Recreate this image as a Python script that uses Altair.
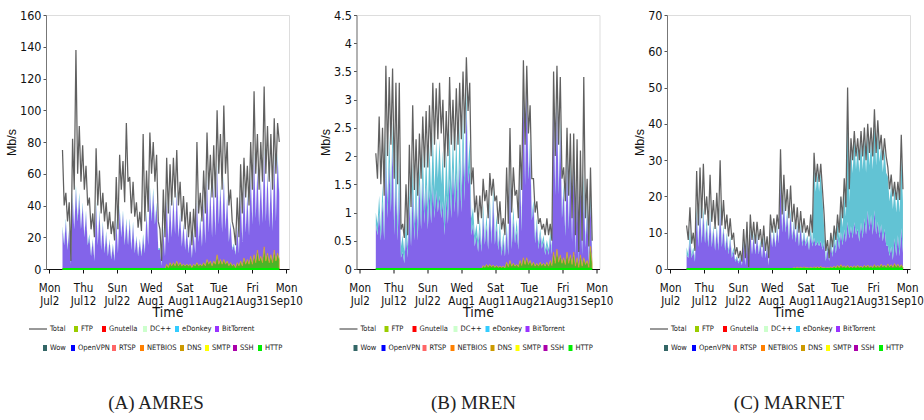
import altair as alt
import pandas as pd

# ---------------- data (two readings per day: peak, trough) ----------------
amres_total = [75,40, 48,30, 42,5, 82,50, 138,60, 90,55, 78,50, 65,40, 45,25, 35,20,
               76,40, 62,35, 48,30, 42,25, 36,22, 30,18, 58,25, 72,50, 68,42, 92,55,
               58,35, 55,33, 42,26, 36,24, 85,30, 62,36, 86,60, 80,55, 72,30, 25,5,
               50,20, 70,35, 66,40, 70,45, 75,40, 55,30, 46,25, 42,20, 36,15, 38,20,
               80,35, 48,30, 62,35, 86,50, 72,45, 78,45, 100,60, 85,50, 103,60, 80,40,
               50,30, 25,15, 45,20, 66,35, 70,45, 65,40, 80,50, 112,60, 85,50, 80,55,
               115,60, 90,55, 85,50, 95,60, 92,80]
amres_bt = [25,15, 30,12, 25,3, 45,25, 50,30, 45,25, 40,20, 35,15, 20,8, 18,5,
            40,15, 35,12, 28,10, 22,8, 18,6, 15,5, 30,10, 38,20, 35,15, 30,15,
            30,12, 28,10, 20,8, 18,8, 20,10, 35,15, 50,30, 48,28, 40,12, 12,2,
            25,8, 40,15, 38,18, 40,20, 42,18, 30,12, 25,10, 22,8, 18,6, 20,8,
            38,15, 28,12, 38,14, 50,20, 45,18, 48,18, 55,25, 45,20, 50,22, 40,15,
            25,10, 12,8, 22,8, 40,15, 45,20, 40,18, 50,25, 62,28, 50,22, 48,25,
            60,25, 50,22, 48,20, 58,25, 60,40]
amres_ed = [2,1, 2,1, 1,1, 3,1, 3,2, 3,1, 2,1, 2,1, 2,1, 1,1,
            3,1, 2,1, 2,1, 2,1, 1,1, 1,1, 2,1, 2,1, 2,1, 2,1,
            2,1, 2,1, 1,1, 1,1, 2,1, 2,1, 3,2, 3,2, 2,1, 1,1,
            2,1, 2,1, 2,1, 2,1, 2,1, 2,1, 1,1, 1,1, 1,1, 1,1,
            2,1, 2,1, 2,1, 3,1, 2,1, 2,1, 3,2, 2,1, 3,1, 2,1,
            1,1, 1,1, 1,1, 2,1, 2,1, 2,1, 3,1, 3,2, 2,1, 2,1,
            3,2, 2,1, 2,1, 3,2, 3,2]
amres_ftp = [3,1, 4,2, 4,2, 5,2, 4,2, 3,2, 3,2, 3,1, 3,2, 4,2,
             3,2, 4,2, 6,3, 5,2, 5,3, 9,3, 6,3, 6,3, 5,2, 4,2,
             3,1, 4,2, 5,2, 7,3, 6,3, 8,3, 9,4, 12,5, 8,4, 14,5,
             10,4, 9,4, 12,5, 10,6]

mren_total = [2.05,1.6, 2.7,1.5, 2.5,1.3, 3.6,2.0, 3.4,2.2, 3.55,1.6, 3.3,1.5, 3.3,0.7, 0.8,0.55, 1.5,0.6,
              2.2,1.1, 2.9,1.4, 2.3,1.3, 2.4,1.6, 2.7,1.8, 2.8,1.8, 2.9,2.0, 3.3,2.2, 3.2,2.3, 3.3,2.4,
              3.0,1.8, 2.8,2.0, 3.4,2.2, 3.0,2.1, 3.2,2.2, 3.3,2.3, 3.5,2.4, 3.75,2.8, 3.3,1.5, 1.8,1.0,
              1.3,0.8, 1.3,0.9, 1.6,1.2, 1.4,0.9, 1.7,1.3, 1.6,1.2, 1.3,0.8, 1.2,0.7, 0.9,0.6, 1.8,0.8,
              2.5,1.0, 1.8,1.3, 1.4,0.9, 2.2,1.4, 3.7,2.2, 3.6,2.4, 2.9,1.6, 1.6,1.0, 1.2,0.8, 0.9,0.7,
              0.8,0.6, 0.9,0.6, 0.8,0.5, 3.5,2.0, 3.6,2.2, 3.4,1.6, 1.8,1.2, 2.5,1.3, 2.4,0.9, 2.4,0.6,
              2.3,0.3, 2.1,0.5, 3.4,0.9, 1.6,0.4, 1.8,0.5]
mren_bt = [0.8,0.6, 1.0,0.5, 1.2,0.5, 2.0,0.9, 1.9,1.0, 2.2,0.6, 1.7,0.5, 1.5,0.2, 0.3,0.1, 0.6,0.2,
           1.2,0.4, 1.4,0.5, 1.3,0.5, 1.5,0.7, 1.6,0.8, 1.5,0.7, 1.4,0.8, 1.5,0.9, 1.4,1.0, 1.3,0.9,
           1.2,0.6, 1.3,0.8, 1.6,0.9, 1.8,1.0, 1.7,0.9, 1.9,1.0, 2.2,1.2, 2.9,1.5, 1.8,0.6, 0.8,0.4,
           0.6,0.3, 0.7,0.3, 0.9,0.4, 0.7,0.3, 1.0,0.4, 1.2,0.4, 0.7,0.3, 0.6,0.2, 0.5,0.2, 0.6,0.2,
           1.4,0.3, 0.8,0.4, 0.6,0.3, 1.5,0.6, 3.0,1.4, 3.1,1.5, 2.0,0.8, 1.0,0.4, 0.7,0.3, 0.5,0.3,
           0.4,0.2, 0.3,0.2, 0.4,0.2, 2.7,1.2, 2.6,1.2, 2.2,0.8, 1.2,0.5, 1.6,0.6, 1.5,0.4, 1.6,0.2,
           1.4,0.1, 1.4,0.2, 1.2,0.3, 0.9,0.1, 0.8,0.1]
mren_ed = [0.2,0.2, 0.3,0.2, 0.3,0.2, 0.4,0.3, 0.5,0.3, 0.4,0.2, 0.6,0.3, 0.5,0.2, 0.3,0.2, 0.3,0.2,
           0.3,0.2, 0.5,0.3, 0.4,0.3, 0.4,0.3, 0.5,0.3, 0.6,0.4, 0.8,0.5, 0.9,0.5, 0.9,0.6, 1.0,0.6,
           0.9,0.5, 0.8,0.5, 0.9,0.5, 0.6,0.4, 0.7,0.4, 0.7,0.4, 0.6,0.4, 0.3,0.3, 0.5,0.3, 0.3,0.2,
           0.2,0.2, 0.2,0.1, 0.2,0.1, 0.2,0.1, 0.2,0.1, 0.2,0.1, 0.2,0.1, 0.2,0.1, 0.1,0.1, 0.1,0.1,
           0.2,0.1, 0.2,0.1, 0.2,0.1, 0.2,0.1, 0.2,0.1, 0.2,0.1, 0.2,0.1, 0.1,0.1, 0.1,0.1, 0.1,0.1,
           0.1,0.1, 0.1,0.1, 0.1,0.1, 0.2,0.1, 0.2,0.1, 0.2,0.1, 0.1,0.1, 0.2,0.1, 0.2,0.1, 0.2,0.1,
           0.1,0.1, 0.2,0.1, 0.3,0.1, 0.2,0.1, 0.3,0.1]
mren_ftp = [0.06,0.03, 0.08,0.04, 0.08,0.04, 0.07,0.03, 0.06,0.03, 0.05,0.03, 0.05,0.02, 0.12,0.04,
            0.15,0.05, 0.1,0.05, 0.08,0.04, 0.15,0.06, 0.2,0.08, 0.2,0.08, 0.15,0.06, 0.12,0.05,
            0.1,0.05, 0.12,0.06, 0.1,0.05, 0.12,0.05, 0.15,0.06, 0.3,0.1, 0.35,0.12, 0.25,0.1,
            0.2,0.08, 0.3,0.1, 0.25,0.08, 0.3,0.05, 0.2,0.03, 0.25,0.05, 0.2,0.08, 0.15,0.03, 0.4,0.1]

marnet_total = [12,8, 17,7, 10,5, 27,12, 28,14, 29,15, 20,12, 26,13, 19,11, 21,12,
                30,12, 19,11, 15,9, 14,8, 10,4, 6,3, 5,2, 11,3, 13,0.5, 15,8,
                13,7, 13,8, 11,6, 12,5, 9,3, 15,10, 14,10, 15,11, 33,15, 26,16,
                22,14, 23,13, 18,11, 17,10, 16,10, 14,10, 12,9, 15,10, 32,24, 29,24,
                29,22, 15,5, 8,3, 10,6, 12,8, 15,10, 20,14, 25,17, 50,22, 36,30,
                38,31, 36,30, 38,31, 39,30, 40,32, 39,31, 44,32, 41,33, 37,30, 36,31,
                28,22, 26,20, 24,19, 24,19, 37,22]
marnet_bt = [4,3, 8,3, 5,2, 15,6, 16,7, 15,7, 12,6, 14,6, 11,5, 11,5,
             16,6, 11,5, 9,4, 8,3, 5,2, 3,1.5, 3,1, 7,1, 8,0.2, 10,4,
             9,4, 9,4, 7,3, 8,3, 6,1, 11,6, 10,6, 11,7, 24,10, 18,10,
             15,8, 15,8, 12,7, 11,6, 11,6, 9,6, 8,5, 9,6, 8,6, 7,6,
             7,5, 7,2, 5,2, 6,3, 7,4, 8,5, 9,6, 10,7, 12,8, 11,8,
             12,9, 10,7, 12,8, 13,9, 15,10, 14,9, 15,9, 12,8, 11,7, 10,6,
             5,3, 5,2, 7,3, 8,3, 10,4]
marnet_ed = [2,1, 3,1, 1,1, 2,1, 2,1, 2,1, 2,1, 2,1, 1,1, 1,1,
             2,1, 1,1, 1,1, 1,1, 1,0.5, 0.5,0.5, 0.5,0.3, 1,0.5, 1,0.1, 1,0.5,
             1,0.5, 1,0.5, 1,0.5, 1,0.5, 0.5,0.3, 1,0.5, 1,0.5, 1,0.5, 2,1, 2,1,
             1.5,1, 1.5,1, 1,1, 1,1, 1,1, 1,1, 1,1, 2,1, 20,15, 19,15,
             19,14, 4,1, 1,0.5, 2,1, 3,2, 4,3, 7,5, 10,7, 30,10, 22,18,
             23,18, 23,19, 23,19, 22,17, 21,18, 21,18, 24,19, 25,21, 22,19, 22,20,
             19,15, 17,14, 14,12, 13,12, 20,14]
marnet_ftp = [0.4,0.2, 0.5,0.2, 0.5,0.2, 0.6,0.3, 0.4,0.2, 0.5,0.2, 0.6,0.3, 0.6,0.3,
              0.7,0.3, 0.5,0.2, 0.4,0.2, 0.6,0.3, 0.8,0.3, 1.0,0.4, 1.2,0.5, 0.9,0.4,
              1.0,0.4, 0.8,0.4, 0.9,0.4, 1.0,0.5, 0.8,0.4, 1.0,0.5, 1.1,0.5, 0.9,0.4,
              1.2,0.5, 1.0,0.5, 1.3,0.6, 1.1,0.5, 1.4,0.6, 1.2,0.5, 1.5,0.6, 1.3,0.5, 1.2,0.5]

# data span of each network's capture
spans = [("2012-07-05 22:00", "2012-09-08 00:00"),
         ("2012-07-06 18:00", "2012-09-08 17:00"),
         ("2012-07-06 20:00", "2012-09-08 19:00")]

y_max = [160, 4.5, 70]
y_ticks = [[0, 20, 40, 60, 80, 100, 120, 140, 160],
           [0, 0.5, 1, 1.5, 2, 2.5, 3, 3.5, 4, 4.5],
           [0, 10, 20, 30, 40, 50, 60, 70]]
tick_dates = [(7, 2), (7, 12), (7, 22), (8, 1), (8, 11), (8, 21), (8, 31), (9, 10)]

captions = ["(A) AMRES", "(B) MREN", "(C) MARNET"]

legend_labels = ["Total", "FTP", "Gnutella", "DC++", "eDonkey", "BitTorrent",
                 "Wow", "OpenVPN", "RTSP", "NETBIOS", "DNS", "SMTP", "SSH", "HTTP"]
legend_colors = ["#333333", "#99cc00", "#ff0000", "#ccffcc", "#33ccff", "#9933ff",
                 "#336666", "#0000ff", "#ff6666", "#ff8000", "#cc9900", "#ffff00", "#aa00aa", "#00ee00"]

# ---------------- styling / layout ----------------
NARROW = "Liberation Sans Narrow, Arial Narrow, DejaVu Sans Condensed, sans-serif"
W, H = 243, 254
GAP = 67.5
C_BT, C_ED, C_FTP, C_TOT, C_HTTP = "#8364ea", "#62c3d4", "#4cb526", "#606060", "#00ee00"

# legend layout (offsets from each panel's plot-left edge), two rows
legend_sq_x = [None, 30, 58, 99, 131, 171, -1, 27, 68, 96, 136, 161, 189, 214]
legend_row = [0, 0, 0, 0, 0, 0, 1, 1, 1, 1, 1, 1, 1, 1]
ROW_Y = [314, 333]
CAPTION_Y = 388
caption_dx = [110, 117, 122]


def make_df(span, total, bt, ed, ftp):
    n = len(total)
    assert len(bt) == n and len(ed) == n
    t = pd.date_range(span[0], span[1], periods=n)
    ftp_full = [0.0] * (n - len(ftp)) + list(ftp)
    df = pd.DataFrame({"t": t, "total": total, "bt": bt, "ed": ed, "ftp": ftp_full})
    df["bt0"] = df["ftp"]
    df["bt1"] = df["ftp"] + df["bt"]
    df["ed1"] = df["bt1"] + df["ed"]
    df["t"] = df["t"].dt.strftime("%Y-%m-%dT%H:%M:%S")
    return df


def legend_layers(p):
    sq_rows, txt_rows, line_rows = [], [], []
    for lab, col, sx, r in zip(legend_labels, legend_colors, legend_sq_x, legend_row):
        yy = ROW_Y[r]
        if sx is None:
            line_rows.append({"x": -17, "x2": 1, "y": yy})
            txt_rows.append({"x": 4, "y": yy, "label": lab})
        else:
            sq_rows.append({"x": sx - 2, "x2": sx + 2, "y": yy - 3, "y2": yy + 3, "c": col})
            txt_rows.append({"x": sx + 5, "y": yy, "label": lab})
    cap_rows = [{"x": caption_dx[p], "y": CAPTION_Y, "label": captions[p]}]
    px = lambda f: alt.X(f, scale=None, axis=None)
    py = lambda f: alt.Y(f, scale=None, axis=None)
    sq = alt.Chart(pd.DataFrame(sq_rows)).mark_rect().encode(
        x=px("x:Q"), x2="x2:Q", y=py("y:Q"), y2="y2:Q", color=alt.Color("c:N", scale=None))
    ln = alt.Chart(pd.DataFrame(line_rows)).mark_rule(color="#333", strokeWidth=1).encode(
        x=px("x:Q"), x2="x2:Q", y=py("y:Q"))
    txt = alt.Chart(pd.DataFrame(txt_rows)).mark_text(
        align="left", baseline="middle", font=NARROW, fontSize=7.5, color="#222").encode(
        x=px("x:Q"), y=py("y:Q"), text="label:N")
    cap = alt.Chart(pd.DataFrame(cap_rows)).mark_text(
        align="center", baseline="middle", font="Liberation Serif, DejaVu Serif, serif",
        fontSize=19, color="#222").encode(x=px("x:Q"), y=py("y:Q"), text="label:N")
    return [sq, ln, txt, cap]


def panel(p, df, ymax, yticks):
    xdom = [alt.DateTime(year=2012, month=7, date=1, hours=1),
            alt.DateTime(year=2012, month=9, date=10, hours=21)]
    xaxis = alt.Axis(
        values=[alt.DateTime(year=2012, month=m, date=d) for m, d in tick_dates],
        labelExpr="[timeFormat(datum.value, '%a'), timeFormat(datum.value, '%b%-d')]",
        labelFont=NARROW, labelFontSize=11.5, labelLineHeight=13, labelColor="#111",
        labelOverlap=False, labelPadding=9, tickSize=4, tickColor="#111",
        domainColor="#111", domainWidth=1.2, grid=False,
        title="Time", titleFont=NARROW, titleFontSize=14, titleFontWeight="normal",
        titleColor="#111", titlePadding=-1)
    yaxis = alt.Axis(
        values=yticks, format="~f", labelFont=NARROW, labelFontSize=12.5, labelColor="#111",
        labelPadding=2, tickSize=3, tickColor="#555", domainColor="#777",
        grid=False, title="Mb/s", titleFont="Liberation Sans, Arial, sans-serif",
        titleFontSize=12.5, titleFontWeight="normal", titleColor="#111", titlePadding=1)
    xscale = alt.Scale(domain=xdom)
    yscale = alt.Scale(domain=[0, ymax], nice=False, zero=True)
    base = alt.Chart(df)
    bt_area = base.mark_area(color=C_BT, opacity=1).encode(
        x=alt.X("t:T", scale=xscale, axis=xaxis),
        y=alt.Y("bt1:Q", scale=yscale, axis=yaxis), y2="bt0:Q")
    xs = alt.X("t:T", scale=xscale, axis=None)
    ed_area = base.mark_area(color=C_ED, opacity=1).encode(
        x=xs, y=alt.Y("ed1:Q", scale=yscale, axis=None), y2="bt1:Q")
    ftp_area = base.mark_area(color=C_FTP, opacity=1, stroke="#e49a2c", strokeWidth=0.7).encode(
        x=xs, y=alt.Y("ftp:Q", scale=yscale, axis=None))
    total_line = base.mark_line(color=C_TOT, strokeWidth=1.25).encode(
        x=xs, y=alt.Y("total:Q", scale=yscale, axis=None))
    http_line = base.mark_line(color=C_HTTP, strokeWidth=2.2).encode(
        x=xs, y=alt.Y(datum=0, scale=yscale, axis=None))
    layers = [bt_area, ed_area, ftp_area, total_line, http_line] + legend_layers(p)
    return alt.layer(*layers).resolve_scale(
        x="independent", y="independent", color="independent").properties(width=W, height=H)


dfs = [make_df(spans[0], amres_total, amres_bt, amres_ed, amres_ftp),
       make_df(spans[1], mren_total, mren_bt, mren_ed, mren_ftp),
       make_df(spans[2], marnet_total, marnet_bt, marnet_ed, marnet_ftp)]
panels = [panel(i, d, m, tk) for i, (d, m, tk) in enumerate(zip(dfs, y_max, y_ticks))]

chart = alt.hconcat(*panels, spacing=GAP, bounds="flush").properties(
    padding={"left": 5, "top": 8, "right": 0, "bottom": 2}
).configure_view(stroke=None).configure(background="white")

chart.save("out.html", embed_options={"renderer": "svg", "actions": False})
